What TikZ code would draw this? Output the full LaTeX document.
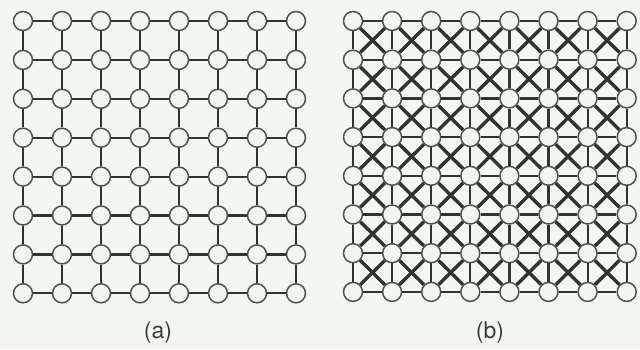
\documentclass[tikz,border=0pt]{standalone}
\usepackage{fontspec}
\setmainfont{TeX Gyre Heros}
\usepackage{xcolor}
\definecolor{paper}{HTML}{F4F6F2}
\definecolor{sitefill}{HTML}{F2F5F1}
\definecolor{ringgray}{HTML}{4C524C}
\definecolor{bonddark}{HTML}{2E352E}
\definecolor{tagtext}{HTML}{3A3F3A}
\begin{document}
\begin{tikzpicture}[x=1pt, y=-1pt,
    site/.style={circle, draw=ringgray, fill=sitefill, line width=1.5pt, minimum size=19pt, inner sep=0pt},
    bond/.style={bonddark, line width=2.2pt},
    diagbond/.style={bonddark, line width=3.4pt},
    tag/.style={text=tagtext, font=\fontsize{23}{27}\selectfont}
]
    \useasboundingbox[fill=paper] (0,0) rectangle (640,349);
    % lattice sites
    \foreach \i in {0,...,7}
        \foreach \j in {0,...,7} {
            \node[site] (a-\i-\j) at ({23+39*\i},{21+38.9*\j}) {};
            \node[site] (b-\i-\j) at ({353+39.1*\i},{21+38.7*\j}) {};
        }
    % square bonds
    \foreach \i in {0,...,6}
        \foreach \j in {0,...,7} {
            \pgfmathtruncatemacro\k{\i+1}
            \draw[bond] (a-\i-\j) -- (a-\k-\j);
            \draw[bond] (a-\j-\i) -- (a-\j-\k);
            \draw[bond] (b-\i-\j) -- (b-\k-\j);
            \draw[bond] (b-\j-\i) -- (b-\j-\k);
        }
    % diagonal bonds
    \foreach \i in {0,...,6}
        \foreach \j in {0,...,6} {
            \pgfmathtruncatemacro\k{\i+1}
            \pgfmathtruncatemacro\n{\j+1}
            \draw[diagbond] (b-\i-\j) -- (b-\k-\n);
            \draw[diagbond] (b-\k-\j) -- (b-\i-\n);
        }
    \node[tag] (tag-a) at (158,333) {(a)};
    \node[tag] (tag-b) at (490,333) {(b)};
\end{tikzpicture}
\end{document}
